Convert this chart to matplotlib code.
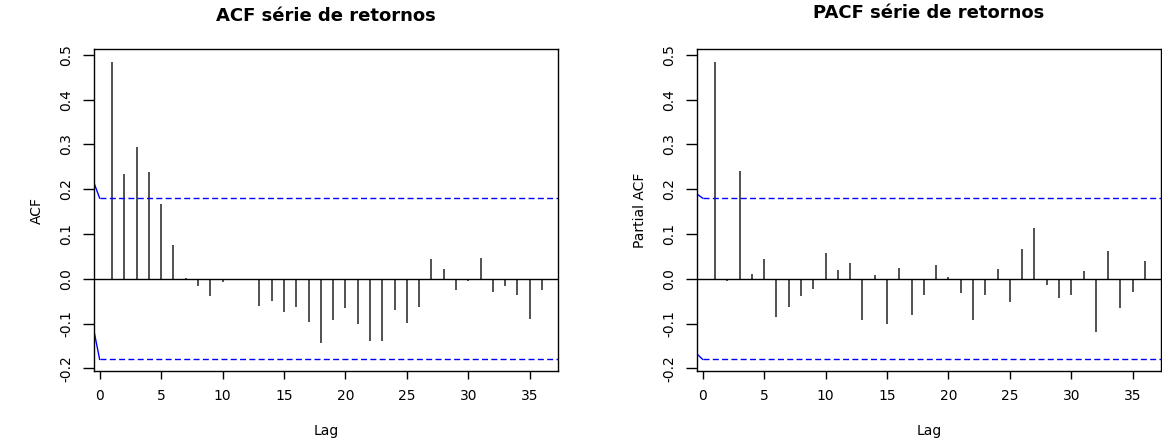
import matplotlib
matplotlib.use("Agg")
import matplotlib.pyplot as plt
import numpy as np

plt.rcParams['font.family'] = ['DejaVu Sans']

lags = list(range(1, 37))
acf_vals = [0.485, 0.233, 0.295, 0.238, 0.168, 0.076, 0.002, -0.017, -0.038, -0.008,
            0.0, 0.0, -0.060, -0.049, -0.074, -0.064, -0.097, -0.143, -0.092, -0.066,
            -0.101, -0.140, -0.140, -0.069, -0.099, -0.062, 0.044, 0.022, -0.026, -0.004,
            0.046, -0.030, -0.017, -0.036, -0.089, -0.026]
pacf_vals = [0.485, -0.004, 0.240, 0.011, 0.044, -0.086, -0.064, -0.039, -0.024, 0.057,
             0.020, 0.036, -0.092, 0.009, -0.101, 0.024, -0.081, -0.037, 0.031, 0.004,
             -0.032, -0.092, -0.037, 0.022, -0.052, 0.066, 0.113, -0.015, -0.042, -0.037,
             0.017, -0.120, 0.063, -0.066, -0.030, 0.040]
conf_limit = 0.18
lead_x = [-0.46, 0.0]
acf_lead_upper = [0.214, 0.18]
acf_lead_lower = [-0.117, -0.18]
pacf_lead_upper = [0.189, 0.18]
pacf_lead_lower = [-0.168, -0.18]

titles = ["ACF série de retornos", "PACF série de retornos"]
ylabels = ["ACF", "Partial ACF"]
xticks = [0, 5, 10, 15, 20, 25, 30, 35]
yticks = [-0.2, -0.1, 0.0, 0.1, 0.2, 0.3, 0.4, 0.5]

W, H = 1162, 447
fig = plt.figure(figsize=(W / 100, H / 100), dpi=100)

def px_axes(x0, y0, x1, y1):
    return fig.add_axes([x0 / W, 1 - y1 / H, (x1 - x0) / W, (y1 - y0) / H])

panels = [
    (px_axes(94, 49, 558, 371), acf_vals, acf_lead_upper, acf_lead_lower, 16),
    (px_axes(697, 49, 1161, 371), pacf_vals, pacf_lead_upper, pacf_lead_lower, 13),
]

for i, (ax, vals, lu, ll, ty) in enumerate(panels):
    ax.vlines(lags, 0, vals, colors='#222222', lw=1.1)
    ax.axhline(0, color='black', lw=1.0)
    ax.plot(lead_x, lu, color='blue', lw=1.0)
    ax.plot(lead_x, ll, color='blue', lw=1.0)
    ax.plot([0, 40], [conf_limit, conf_limit], color='blue', lw=1.0, dashes=(4.3, 2.4))
    ax.plot([0, 40], [-conf_limit, -conf_limit], color='blue', lw=1.0, dashes=(4.3, 2.4))
    ax.set_xlim(-0.46, 37.3)
    ax.set_ylim(-0.206, 0.513)
    ax.set_xticks(xticks)
    ax.set_xticklabels([str(t) for t in xticks], fontsize=10)
    ax.set_yticks(yticks)
    ax.set_yticklabels([f"{t:.1f}" for t in yticks], fontsize=10, rotation=90, va='center')
    ax.tick_params(axis='x', length=6, width=1, pad=7)
    ax.tick_params(axis='y', length=8, width=1, pad=7)
    for s in ax.spines.values():
        s.set_linewidth(1.0)
    ax.set_xlabel("Lag", fontsize=10, labelpad=15)
    ax.set_ylabel(ylabels[i], fontsize=10, labelpad=11)
    x0 = ax.get_position().x0
    x1 = ax.get_position().x1
    fig.text((x0 + x1) / 2, 1 - ty / H, titles[i], ha='center', va='center',
             fontsize=13, fontweight='bold')

fig.savefig("out.png", dpi=100)
